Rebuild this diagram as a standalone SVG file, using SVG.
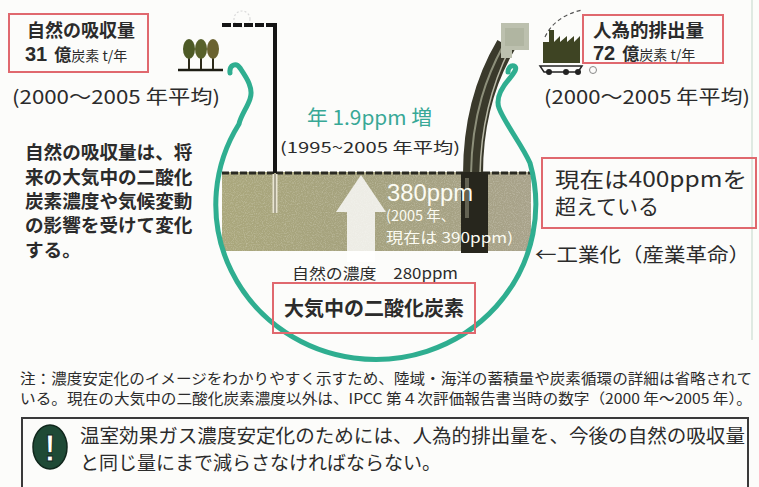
<svg xmlns="http://www.w3.org/2000/svg" width="759" height="487" viewBox="0 0 759 487">
  <defs>
    <style>
      .jp { font-family: "Noto Sans CJK JP", "Noto Sans", sans-serif; fill: #2b2b2b; }
      .b { font-weight: 700; }
      .lat { font-family: "Liberation Sans", "Noto Sans CJK JP", sans-serif; }
      .redbox { fill: none; stroke: #e0686e; stroke-width: 2; }
      .loop { fill: none; stroke: #2fae90; stroke-width: 5; stroke-linecap: round; stroke-linejoin: round; }
      .wtxt { fill: #fbfbf2; }
    </style>
    <linearGradient id="waterFill" x1="0" y1="0" x2="1" y2="0">
      <stop offset="0" stop-color="#aaa77c"/>
      <stop offset="0.5" stop-color="#a4a17e"/>
      <stop offset="1" stop-color="#a8a28a"/>
    </linearGradient>
    <filter id="grain" x="0" y="0" width="1" height="1">
      <feTurbulence type="fractalNoise" baseFrequency="0.9" numOctaves="2" seed="3" result="n"/>
      <feColorMatrix type="matrix" values="0 0 0 0 1  0 0 0 0 1  0 0 0 0 0.95  0 0 0 1.6 -0.7" in="n"/>
    </filter>
    <clipPath id="waterClip"><rect x="222" y="172" width="309" height="79"/></clipPath>
  </defs>

  <!-- page -->
  <rect width="759" height="487" fill="#fcfcfa"/>
  <line x1="752" y1="0" x2="752" y2="340" stroke="#dfe9e2" stroke-width="2"/>

  <!-- atmosphere reservoir -->
  <g id="reservoir">
    <rect x="222" y="172" width="309" height="79" fill="url(#waterFill)"/>
    <g clip-path="url(#waterClip)" opacity="0.35">
      <rect x="222" y="172" width="309" height="79" filter="url(#grain)"/>
    </g>
    <line x1="222" y1="173" x2="531" y2="173" stroke="#2a2a22" stroke-width="3" stroke-dasharray="7 2"/>
  </g>

  <!-- intake pole (natural absorption) -->
  <g id="intake">
    <circle cx="242" cy="19" r="8" fill="none" stroke="#d9d9d9" stroke-width="1.2" stroke-dasharray="2 2"/>
    <line x1="222" y1="25" x2="277" y2="25" stroke="#151515" stroke-width="4" stroke-dasharray="9 2"/>
    <line x1="275" y1="23" x2="275" y2="173" stroke="#151515" stroke-width="4"/>
    <line x1="275" y1="174" x2="275" y2="213" stroke="#e9e5d2" stroke-width="5"/>
    <line x1="275" y1="174" x2="275" y2="213" stroke="#6a6752" stroke-width="1"/>
  </g>

  <!-- trees -->
  <g id="trees">
    <line x1="178" y1="70" x2="223" y2="70" stroke="#1d1d14" stroke-width="2.5"/>
    <g stroke="#2d2b1a" stroke-width="2">
      <line x1="189" y1="52" x2="189" y2="69"/>
      <line x1="201" y1="52" x2="201" y2="69"/>
      <line x1="213" y1="52" x2="213" y2="69"/>
    </g>
    <ellipse cx="189" cy="49" rx="6" ry="10" fill="#4d5a26"/>
    <ellipse cx="201" cy="49" rx="6" ry="10" fill="#58612b"/>
    <ellipse cx="213" cy="49" rx="6" ry="10" fill="#6a6230"/>
  </g>

  <!-- emission pipe and factory -->
  <g id="emission">
    <path d="M506,45 C490,72 473,112 473,174" fill="none" stroke="#3a392b" stroke-width="20"/>
    <path d="M503,46 C488,74 472,112 471,174" fill="none" stroke="#8d8f7a" stroke-width="2"/>
    <path d="M510,48 C496,76 481,116 480,174" fill="none" stroke="#b8b8a6" stroke-width="1.5"/>
    <rect x="461" y="172" width="27" height="81" fill="#27261d"/>
    <rect x="465" y="178" width="4" height="40" fill="#8d8c78" opacity="0.6"/>
    <path d="M501,23 H529 V50 H512 V58 H501 Z" fill="#bcc0ae"/>
    <path d="M505,28 H524 V46 H505 Z" fill="#a9ad98" opacity="0.6"/>
    <path d="M545,37 C552,22 565,14 582,10" fill="none" stroke="#555" stroke-width="1.2" stroke-dasharray="4 3"/>
    <path d="M543,63 V42 H549 V30 H554 V42 L560,36 V42 L567,36 V42 L574,36 V42 L580,36 V63 Z" fill="#3e4423"/>
    <path d="M540,66 H582 L578,72 H544 Z" fill="none" stroke="#222" stroke-width="1.5"/>
    <circle cx="549" cy="72" r="3" fill="#222"/>
    <circle cx="566" cy="72" r="3" fill="#222"/>
    <circle cx="578" cy="72" r="3" fill="#222"/>
    <circle cx="593" cy="70" r="3.5" fill="none" stroke="#888" stroke-width="1"/>
  </g>

  <!-- rising concentration arrow -->
  <g id="rise-arrow">
    <path d="M361,175 L386,212 L375,212 L375,262 L347,262 L347,212 L336,212 Z" fill="#ffffff" opacity="0.8"/>
  </g>

  <!-- carbon cycle loop -->
  <g id="connectors">
    <path class="loop" d="M230,73 C229,65 236,62 240,68 C246,77 254,88 250,99 C247,108 241,115 239,124 A160 155 0 1 0 530,163 C522,145 504,122 499,108 C495,97 503,86 510,78 C514,73 518,68 514,66 C510,65 508,69 508,72"/>
  </g>

  <!-- labels: natural absorption -->
  <g id="natural-absorption">
    <rect class="redbox" x="9" y="14" width="139" height="58"/>
    <text class="jp b" x="27" y="37" font-size="18">自然の吸収量</text>
    <text class="jp b" x="25" y="61"><tspan class="lat" font-size="20" font-weight="700">31</tspan><tspan font-size="17" dx="7">億</tspan><tspan font-size="14" font-weight="400">炭素 t/年</tspan></text>
    <text class="jp" x="12" y="104" font-size="19" textLength="208" lengthAdjust="spacingAndGlyphs">(2000～2005 年平均)</text>
  </g>

  <!-- labels: human emission -->
  <g id="human-emission">
    <rect class="redbox" x="583" y="15" width="140" height="48"/>
    <text class="jp b" x="593" y="37" font-size="18.5">人為的排出量</text>
    <text class="jp b" x="593" y="60"><tspan class="lat" font-size="20" font-weight="700">72</tspan><tspan font-size="17" dx="7">億</tspan><tspan font-size="14" font-weight="400">炭素 t/年</tspan></text>
    <text class="jp" x="544" y="104" font-size="19" textLength="206" lengthAdjust="spacingAndGlyphs">(2000～2005 年平均)</text>
  </g>

  <!-- side note -->
  <g id="side-note">
    <text class="jp b" font-size="18.6">
      <tspan x="25" y="159">自然の吸収量は、将</tspan>
      <tspan x="25" y="184">来の大気中の二酸化</tspan>
      <tspan x="25" y="208">炭素濃度や気候変動</tspan>
      <tspan x="25" y="232">の影響を受けて変化</tspan>
      <tspan x="25" y="257">する。</tspan>
    </text>
  </g>

  <!-- growth rate -->
  <g id="growth-rate">
    <text class="jp" x="307" y="125" font-size="20" style="fill:#38a896" textLength="125" lengthAdjust="spacingAndGlyphs">年 1.9ppm 増</text>
    <text class="jp" x="280" y="153" font-size="15" textLength="180" lengthAdjust="spacingAndGlyphs">(1995~2005 年平均)</text>
  </g>

  <!-- current concentration -->
  <g id="current-level">
    <text class="lat wtxt" x="387" y="201" font-size="23" textLength="86" lengthAdjust="spacingAndGlyphs">380ppm</text>
    <text class="jp wtxt" x="386" y="221" font-size="14.5">(2005 年、</text>
    <text class="jp wtxt" x="386" y="243" font-size="14.5" textLength="127" lengthAdjust="spacingAndGlyphs">現在は 390ppm)</text>
  </g>

  <!-- natural concentration and title -->
  <g id="co2-label">
    <text class="jp" x="292" y="279" font-size="15" textLength="166" lengthAdjust="spacingAndGlyphs">自然の濃度　280ppm</text>
    <rect class="redbox" x="273" y="283" width="202" height="50"/>
    <text class="jp b" x="374" y="316" font-size="20" text-anchor="middle">大気中の二酸化炭素</text>
  </g>

  <!-- present value -->
  <g id="present-value">
    <rect class="redbox" x="542" y="158" width="214" height="70"/>
    <text class="jp" x="555" y="187" font-size="21" textLength="192" lengthAdjust="spacingAndGlyphs">現在は400ppmを</text>
    <text class="jp" x="555" y="214" font-size="21">超えている</text>
  </g>

  <!-- industrialization -->
  <g id="industrialization">
    <text class="jp" x="535" y="262" font-size="19.5" textLength="215" lengthAdjust="spacingAndGlyphs">←工業化（産業革命）</text>
  </g>

  <!-- footnote -->
  <g id="footnote">
    <text class="jp" x="20" y="384" font-size="14.5" textLength="732" lengthAdjust="spacingAndGlyphs">注：濃度安定化のイメージをわかりやすく示すため、陸域・海洋の蓄積量や炭素循環の詳細は省略されて</text>
    <text class="jp" x="20" y="404" font-size="14.5" textLength="732" lengthAdjust="spacingAndGlyphs">いる。現在の大気中の二酸化炭素濃度以外は、IPCC 第４次評価報告書当時の数字（2000 年～2005 年）。</text>
  </g>

  <!-- key message -->
  <g id="key-message">
    <rect x="22" y="418" width="726" height="80" fill="none" stroke="#3a3a3a" stroke-width="2"/>
    <ellipse cx="50" cy="447" rx="17" ry="22" fill="#1f4a36" stroke="#10271c" stroke-width="1.5"/>
    <text x="50" y="461" font-family="Liberation Sans, sans-serif" font-weight="700" font-size="36" fill="#ffffff" text-anchor="middle" stroke="#10271c" stroke-width="1">!</text>
    <text class="jp" x="80" y="443" font-size="19" textLength="665" lengthAdjust="spacingAndGlyphs">温室効果ガス濃度安定化のためには、人為的排出量を、今後の自然の吸収量</text>
    <text class="jp" x="80" y="470" font-size="19">と同じ量にまで減らさなければならない。</text>
  </g>
</svg>
